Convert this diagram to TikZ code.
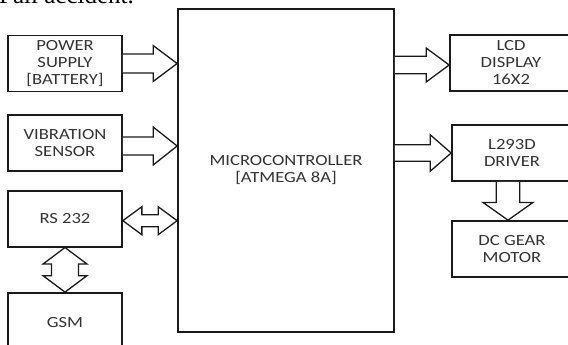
\documentclass[tikz,border=0pt]{standalone}
\usepackage{fontspec}
\setmainfont{Carlito}[FakeStretch=1.2]
\newfontfamily\serifhead{Liberation Serif}
\usetikzlibrary{calc}
\definecolor{txt}{HTML}{333333}
\definecolor{ln}{HTML}{1A1A1A}
% horizontal single block arrow: start, end, shaft half, head half, head length
\newcommand\harrow[5]{%
  \draw[fat] let \p1=#1, \p2=#2 in
  (\x1,\y1+#3) -- (\x2-#5,\y1+#3) -- (\x2-#5,\y1+#4) -- (\x2,\y1)
  -- (\x2-#5,\y1-#4) -- (\x2-#5,\y1-#3) -- (\x1,\y1-#3);}
% horizontal double block arrow
\newcommand\hdarrow[5]{%
  \draw[fat] let \p1=#1, \p2=#2 in
  (\x1,\y1) -- (\x1+#5,\y1+#4) -- (\x1+#5,\y1+#3) -- (\x2-#5,\y1+#3)
  -- (\x2-#5,\y1+#4) -- (\x2,\y1) -- (\x2-#5,\y1-#4) -- (\x2-#5,\y1-#3)
  -- (\x1+#5,\y1-#3) -- (\x1+#5,\y1-#4) -- cycle;}
% vertical double block arrow (top to bottom)
\newcommand\vdarrow[5]{%
  \draw[fat] let \p1=#1, \p2=#2 in
  (\x1,\y1) -- (\x1+#4,\y1-#5) -- (\x1+#3,\y1-#5) -- (\x1+#3,\y2+#5)
  -- (\x1+#4,\y2+#5) -- (\x1,\y2) -- (\x1-#4,\y2+#5) -- (\x1-#3,\y2+#5)
  -- (\x1-#3,\y1-#5) -- (\x1-#4,\y1-#5) -- cycle;}
% vertical single block arrow (downwards)
\newcommand\vdown[5]{%
  \draw[fat] let \p1=#1, \p2=#2 in
  (\x1-#3,\y1) -- (\x1-#3,\y2+#5) -- (\x1-#4,\y2+#5) -- (\x1,\y2)
  -- (\x1+#4,\y2+#5) -- (\x1+#3,\y2+#5) -- (\x1+#3,\y1);}
\begin{document}
\begin{tikzpicture}[x=1pt,y=-1pt,
  blk/.style={draw=ln,line width=1.7pt,fill=white,text=txt,align=center,
    font=\fontsize{15.5}{17}\selectfont,inner sep=0pt},
  fat/.style={draw=ln,line width=1.3pt,fill=white,line join=miter}]
\useasboundingbox (0,0) rectangle (568,345);
\node[font=\serifhead\fontsize{25}{25}\selectfont,anchor=base west,inner sep=0pt] (title) at (-1,3.5) {Fall accident.};

\node[blk,minimum width=114pt,minimum height=56pt] (ps) at (65,63.5) {POWER\\SUPPLY\\{[BATTERY]}};
\node[blk,minimum width=114pt,minimum height=56pt] (vs) at (65,143) {VIBRATION\\SENSOR};
\node[blk,minimum width=114pt,minimum height=56pt] (rs) at (65,218.7) {RS 232};
\node[blk,minimum width=114pt,minimum height=59pt] (gsm) at (65,322.5) {GSM};
\node[blk,minimum width=216pt,minimum height=323pt] (mcu) at (286,170.5) {MICROCONTROLLER\\{[ATMEGA 8A]}};
\node[blk,minimum width=122pt,minimum height=56pt] (lcd) at (511,63) {LCD\\DISPLAY\\16X2};
\node[blk,minimum width=120pt,minimum height=56pt] (drv) at (512,153) {L293D\\DRIVER};
\node[blk,minimum width=120pt,minimum height=56pt] (dc) at (512,249) {DC GEAR\\MOTOR};

\harrow{(ps.east)}{(mcu.west)}{9.5pt}{18pt}{24pt}
\harrow{($(vs.east)+(0,3)$)}{(mcu.west)}{9pt}{19pt}{24pt}
\hdarrow{($(rs.east)+(0,2)$)}{(mcu.west)}{6pt}{14pt}{19pt}
\vdarrow{(rs.south)}{(gsm.north)}{13.5pt}{22pt}{16.5pt}
\harrow{($(mcu.east|-lcd.west)+(0,2)$)}{(lcd.west)}{8.7pt}{17pt}{23pt}
\harrow{(mcu.east|-drv.west)}{(drv.west)}{8.3pt}{18.3pt}{21pt}
\vdown{($(drv.south)+(-4,0)$)}{($(dc.north)+(-4,0)$)}{11.7pt}{25pt}{17.7pt}
\end{tikzpicture}
\end{document}
